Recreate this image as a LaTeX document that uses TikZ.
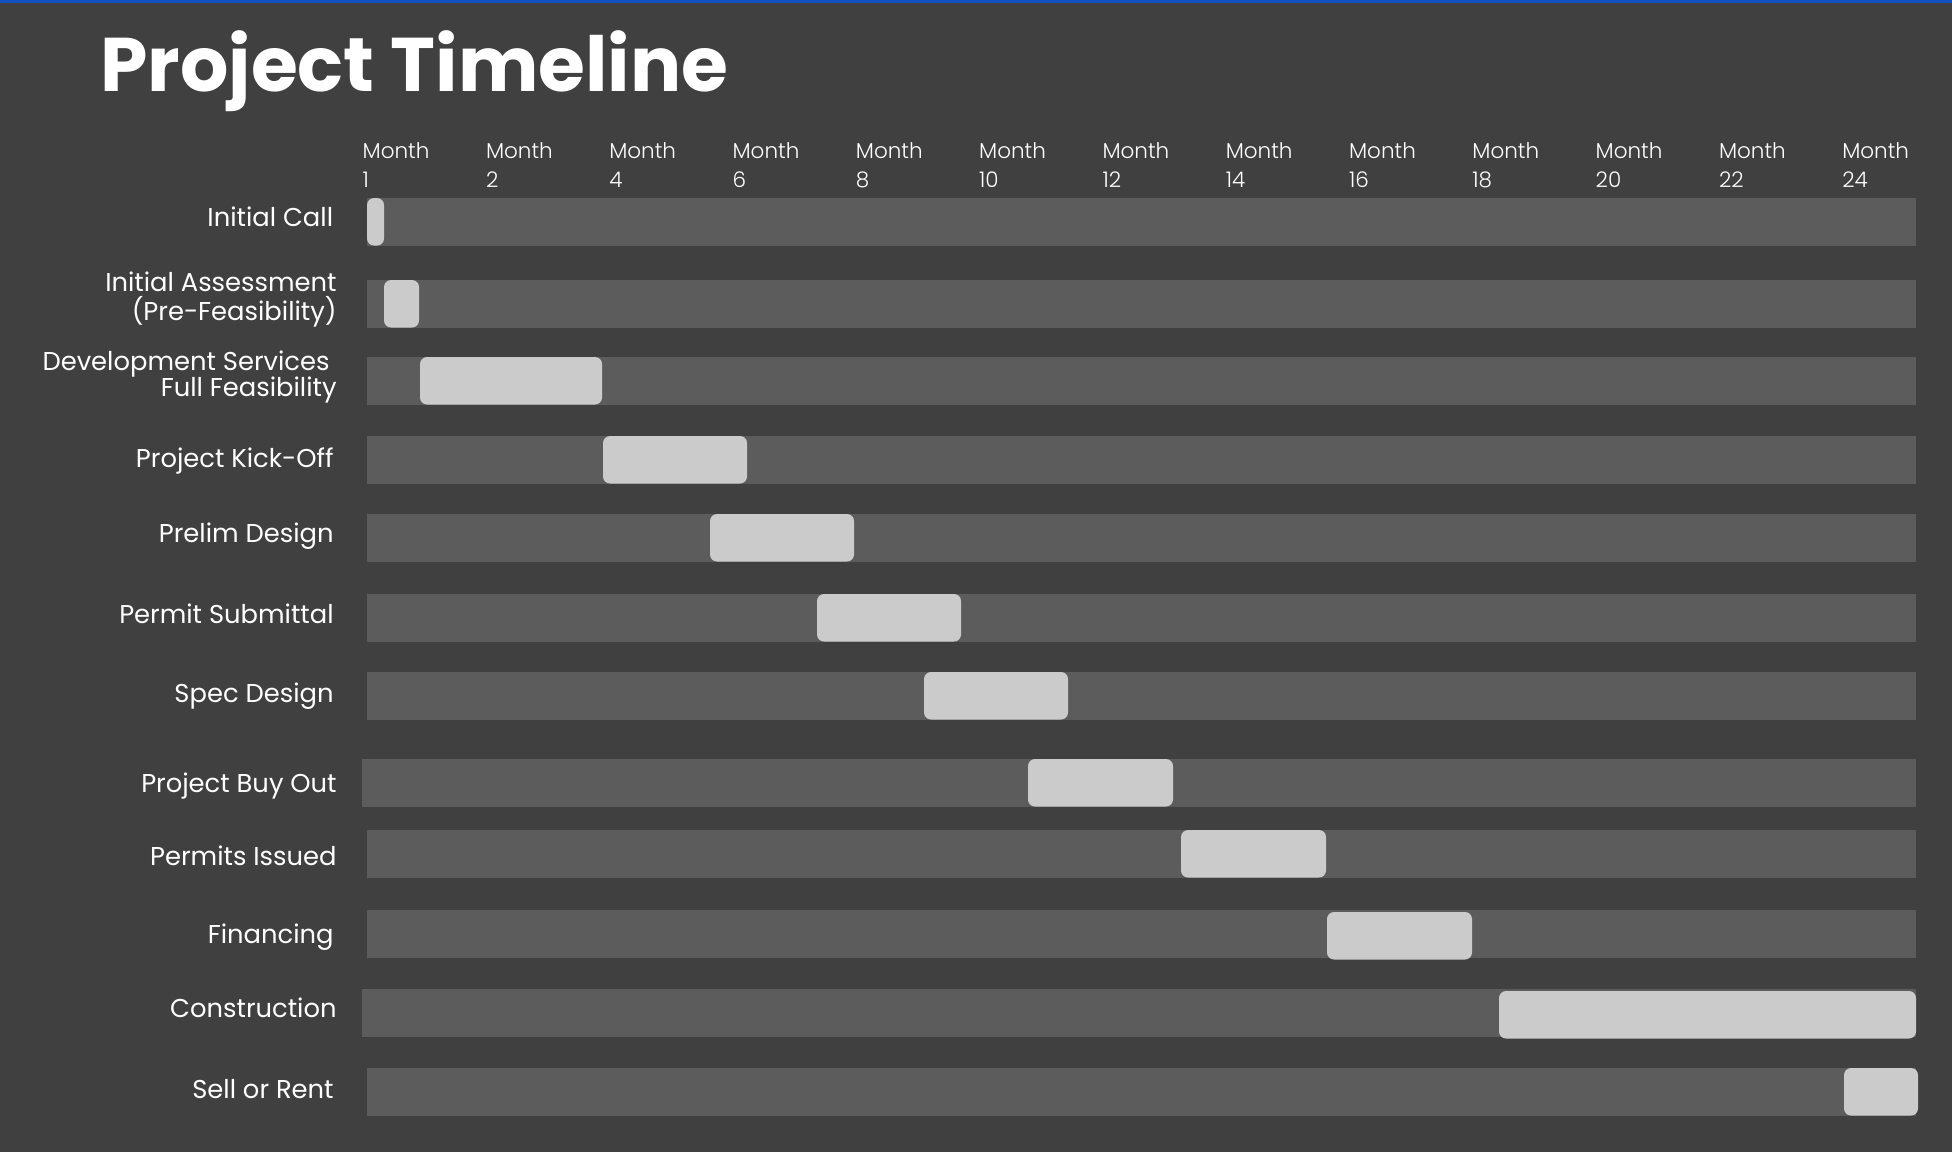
\documentclass[tikz,border=0pt]{standalone}
\usepackage{fontspec}
\setmainfont{Poppins}
\newfontfamily\lightfont{Poppins Light}
\definecolor{bgc}{HTML}{404040}
\definecolor{trackc}{HTML}{5C5C5C}
\definecolor{taskc}{HTML}{CBCBCB}
\definecolor{topline}{RGB}{18,80,196}
\begin{document}
\begin{tikzpicture}[x=0.5pt,y=-0.5pt,
  track/.style={fill=trackc,draw=none},
  task/.style={fill=taskc,draw=none,rounded corners=3.5pt},
  lbl/.style={anchor=base east,text=white,inner sep=0pt,font=\fontsize{12.9}{15}\selectfont},
  hdr/.style={anchor=base west,text=white,inner sep=0pt,font=\lightfont\fontsize{10.75}{13}\selectfont},
  ttl/.style={anchor=base west,text=white,inner sep=0pt,font=\bfseries\fontsize{38}{45}\selectfont}]
\useasboundingbox (0,0) rectangle (1952,1152);
\fill[bgc] (0,0) rectangle (1952,1152);
\fill[topline] (0,0) rectangle (1952,2.5);
% title
\node[ttl] (title) at (100,91.5) {Project Timeline};
% header
\foreach \i/\m in {0/1,1/2,2/4,3/6,4/8,5/10,6/12,7/14,8/16,9/18,10/20,11/22,12/24}{
  \node[hdr] (mh\i) at ({362.3+\i*123.3},158.3) {Month};
  \node[hdr] (mn\i) at ({362.3+\i*123.3},187) {\m};
}
% rows: top, track left, task x1, x2, task dy
\foreach \t/\l/\a/\b/\d in {198/367/367/384/0, 280/367/384/419/0, 357/367/420/602/0,
  436/367/603/747/0, 514/367/710/854/0, 594/367/817/961/0, 672/367/924/1068/0,
  759/362/1028/1173/0, 830/367/1181/1326/0, 910/367/1327/1472/2,
  989/362/1499/1916/2, 1068/367/1844/1918/0}{
  \fill[track] (\l,\t) rectangle (1916,\t+47.5);
  \fill[task] (\a,\t+\d) rectangle (\b,\t+\d+47.5);
}
% labels
\node[lbl] (l1) at (333.5,226) {Initial Call};
\node[lbl] (l2a) at (337,291.5) {Initial Assessment};
\node[lbl] (l2b) at (337,320) {(Pre-Feasibility)};
\node[lbl] (l3a) at (330,370.5) {Development Services};
\node[lbl] (l3b) at (337,396.5) {Full Feasibility};
\node[lbl] (l4) at (334,467.5) {Project Kick-Off};
\node[lbl] (l5) at (334,542.5) {Prelim Design};
\node[lbl] (l6) at (334,623.5) {Permit Submittal};
\node[lbl] (l7) at (334,702.5) {Spec Design};
\node[lbl] (l8) at (337,792) {Project Buy Out};
\node[lbl] (l9) at (337,865.5) {Permits Issued};
\node[lbl] (l10) at (334,943) {Financing};
\node[lbl] (l11) at (337,1017) {Construction};
\node[lbl] (l12) at (334,1098) {Sell or Rent};
\end{tikzpicture}
\end{document}
